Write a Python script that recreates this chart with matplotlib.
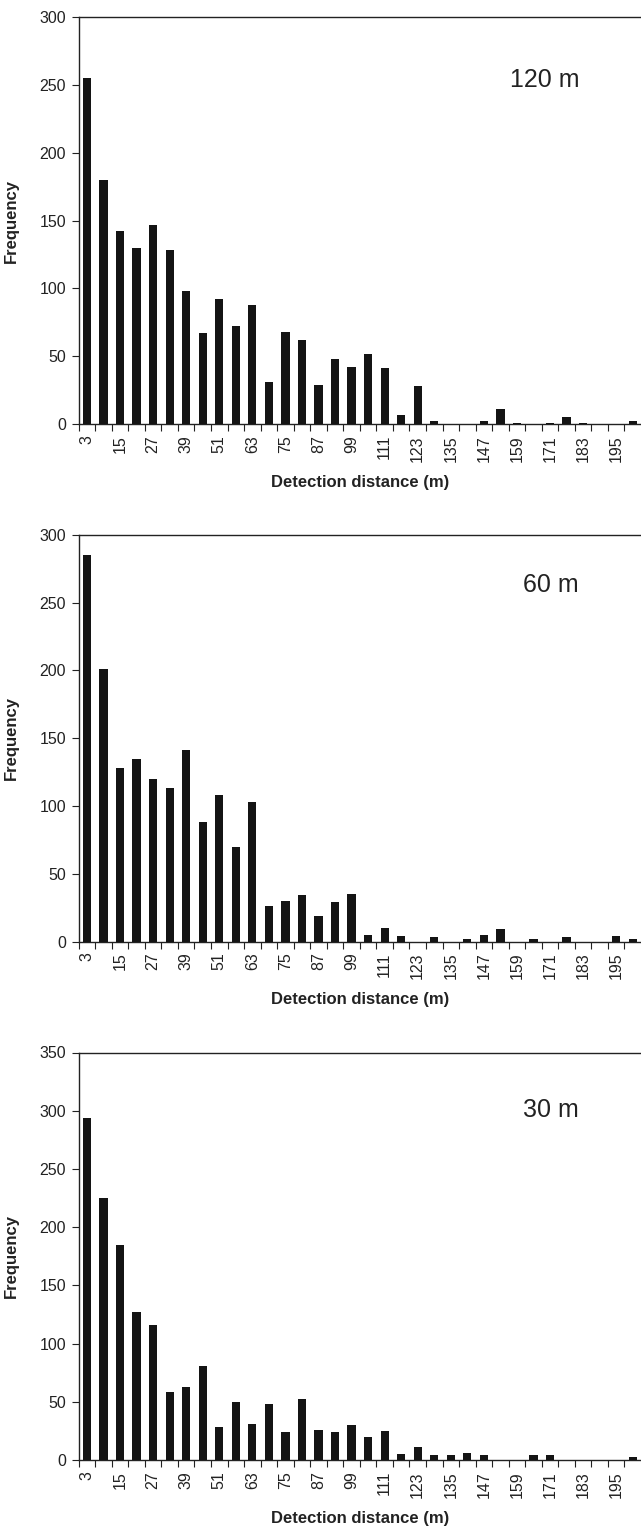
import matplotlib.pyplot as plt
import numpy as np

plt.rcParams['font.family'] = ['Liberation Sans', 'DejaVu Sans']

# detection distance classes (m), 6 m bins
distances = [3, 9, 15, 21, 27, 33, 39, 45, 51, 57, 63, 69, 75, 81, 87, 93, 99,
             105, 111, 117, 123, 129, 135, 141, 147, 153, 159, 165, 171, 177,
             183, 189, 195, 201]

freq_120 = [255, 180, 142, 130, 147, 128, 98, 67, 92, 72, 88, 31, 68, 62, 29, 48, 42,
            52, 41, 7, 28, 2, 0, 0, 2, 11, 1, 0, 1, 5, 1, 0, 0, 2]
freq_60 = [285, 201, 128, 135, 120, 113, 141, 88, 108, 70, 103, 26, 30, 34, 19, 29, 35,
           5, 10, 4, 0, 3, 0, 2, 5, 9, 0, 2, 0, 3, 0, 0, 4, 2]
freq_30 = [294, 225, 185, 127, 116, 58, 63, 81, 28, 50, 31, 48, 24, 52, 26, 24, 30,
           20, 25, 5, 11, 4, 4, 6, 4, 0, 0, 4, 4, 0, 0, 0, 0, 3]

panel_labels = ["120 m", "60 m", "30 m"]
panel_ymax = [300, 300, 350]

W, H = 641, 1528
fig = plt.figure(figsize=(W / 100, H / 100), dpi=100)

# axes boxes in pixels: (top, bottom), plus label y position (px from top)
boxes = [(17.3, 424.0, 80), (535.0, 941.5, 585), (1052.5, 1460.0, 1110)]
left_px = 78.7

x = np.arange(len(distances))
for freqs, lab, ymax, (top, bot, lab_y) in zip([freq_120, freq_60, freq_30],
                                                panel_labels, panel_ymax, boxes):
    ax = fig.add_axes([left_px / W, 1 - bot / H, 1 - left_px / W, (bot - top) / H])
    ax.bar(x, freqs, width=0.5, color='#141414', zorder=3)
    ax.set_xlim(-0.5, len(distances) - 0.5)
    ax.set_ylim(0, ymax)
    ax.set_yticks(np.arange(0, ymax + 1, 50))
    ax.tick_params(axis='y', direction='out', length=5, width=0.8, pad=4,
                   labelsize=11.5, colors='#222222')

    # labels on every other class, tick marks between classes
    ax.set_xticks(x[::2])
    ax.set_xticklabels([str(d) for d in distances[::2]], rotation=90)
    ax.tick_params(axis='x', which='major', length=0, pad=8, labelsize=11.5,
                   colors='#222222')
    ax.set_xticks(np.arange(-0.5, len(distances) - 0.5, 1), minor=True)
    ax.tick_params(axis='x', which='minor', direction='out', length=5, width=0.8,
                   color='#222222')

    for s in ['left', 'bottom', 'top']:
        ax.spines[s].set_linewidth(1.0)
        ax.spines[s].set_color('#222222')
    ax.spines['right'].set_visible(False)

    ax.set_ylabel("Frequency", fontsize=12, fontweight='bold', color='#222222')
    ax.yaxis.set_label_coords((19 - left_px) / (W - left_px), 0.5)
    ax.set_xlabel("Detection distance (m)", fontsize=12, fontweight='bold',
                  color='#222222', va='center')
    ax.xaxis.set_label_coords(0.5, -58 / (bot - top))

    fig.text(579 / W, 1 - lab_y / H, lab, fontsize=18, ha='right', va='center',
             color='#222222')

plt.savefig("out.png", dpi=100)
